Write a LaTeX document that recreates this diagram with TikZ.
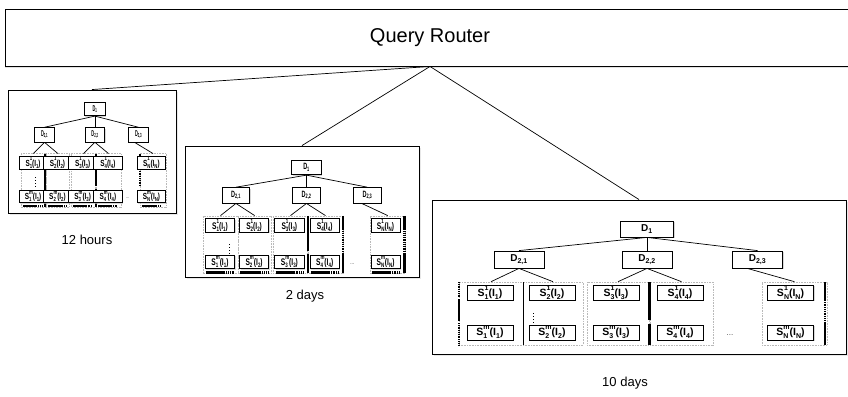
\documentclass[tikz,border=0pt]{standalone}
\usepackage{fontspec}
\setmainfont{Liberation Sans}
\usepackage{graphicx}
\usetikzlibrary{calc,shadows}

% disk label S_i^j(I_k) with stacked indices
\newcommand\idx[1]{{\fontsize{7}{7}\selectfont #1}}
\newcommand\slab[3]{S\ooalign{\raisebox{6.2pt}{\idx{#2}}\cr\raisebox{-3pt}{\idx{#1}}\cr}(I\raisebox{-3pt}{\idx{#3}})}

\tikzset{
  qrbox/.style={draw, line width=0.9pt, fill=white, minimum width=850pt, minimum height=57pt,
    font=\fontsize{20}{24}\selectfont, drop shadow={shadow xshift=0pt, shadow yshift=-2pt, fill=gray!45}},
  panel/.style={draw, line width=0.9pt, fill=white, inner sep=0pt,
    drop shadow={shadow xshift=1.5pt, shadow yshift=-1.5pt, fill=gray!35}},
  dbox/.style={draw, line width=0.8pt, fill=white, inner sep=0pt, minimum width=50pt, minimum height=17pt,
    font=\bfseries\fontsize{10}{11}\selectfont, drop shadow={shadow xshift=1pt, shadow yshift=-1pt, fill=gray!60}},
  sbox/.style={draw, line width=0.8pt, fill=white, inner sep=0pt, minimum height=15pt,
    font=\bfseries\fontsize{10.5}{12}\selectfont, drop shadow={shadow xshift=1pt, shadow yshift=-1pt, fill=gray!60}},
  grp/.style={draw=gray!55, line width=0.6pt, dash pattern=on 0.8pt off 0.8pt, inner sep=0pt, minimum height=63pt},
  bar/.style={line width=2.4pt},
  hatch/.style={line width=2.4pt, dash pattern=on 0.9pt off 0.9pt},
  thinbar/.style={line width=0.6pt},
  link/.style={line width=0.7pt},
  dotcol/.style={line width=1pt, dash pattern=on 1pt off 2pt},
  caption/.style={font=\fontsize{13}{15}\selectfont},
  more/.style={font=\fontsize{8}{9}\selectfont, text=gray!60!black},
}

% one disk box, width scaled by \boxsx
\newcommand\diskbox[3]{\node[sbox, minimum width=46pt*\boxsx] (#1) at (#2) {\scalebox{\boxsx}[1]{#3}};}

% one index tree in local units: #1 name prefix, #2 box width factor, #3 extra shading
\newcommand\treepanel[3]{%
  \def\boxsx{#2}%
  \node[grp, minimum width=64pt] (#1g1) at (59,113.5) {};
  \node[grp, minimum width=60pt] (#1g2) at (121,113.5) {};
  \node[grp, minimum width=62pt] (#1g3) at (186,113.5) {};
  \node[grp, minimum width=63pt] (#1g4) at (249.5,113.5) {};
  \node[grp, minimum width=65pt] (#1gN) at (362.5,113.5) {};
  \draw[bar] (217.5,82) -- (217.5,120) (217.5,124) -- (217.5,145);
  #3
  \node[dbox, minimum width=53pt, minimum height=16pt] (#1d1) at (215,29) {D\textsubscript{1}};
  \node[dbox] (#1d21) at (87,59.5) {D\textsubscript{2,1}};
  \node[dbox] (#1d22) at (215,59.5) {D\textsubscript{2,2}};
  \node[dbox] (#1d23) at (325.5,59.5) {D\textsubscript{2,3}};
  \diskbox{#1s1a}{58,92.5}{\slab{1}{1}{1}}
  \diskbox{#1s2a}{120,92.5}{\slab{2}{1}{2}}
  \diskbox{#1s3a}{184,92.5}{\slab{3}{1}{3}}
  \diskbox{#1s4a}{248,92.5}{\slab{4}{1}{4}}
  \diskbox{#1sNa}{358.5,92.5}{\slab{N}{1}{N}}
  \diskbox{#1s1b}{58,132.5}{\slab{1}{m}{1}}
  \diskbox{#1s2b}{120,132.5}{\slab{2}{m}{2}}
  \diskbox{#1s3b}{184,132.5}{\slab{3}{m}{3}}
  \diskbox{#1s4b}{248,132.5}{\slab{4}{m}{4}}
  \diskbox{#1sNb}{358.5,132.5}{\slab{N}{m}{N}}
  \node[more] (#1more) at (298,135) {...};
  \draw[link] (#1d1.south) -- (#1d21.north);
  \draw[link] (#1d1.south) -- (#1d22.north);
  \draw[link] (#1d1.south) -- (#1d23.north);
  \draw[link] (#1d21.south) -- (#1g1.north);
  \draw[link] (#1d21.south) -- (#1g2.north);
  \draw[link] (#1d22.south) -- (#1g3.north);
  \draw[link] (#1d22.south) -- (#1g4.north);
  \draw[link] ($(#1d23.south west)!0.3!(#1d23.south east)$) -- (#1gN.north);
}

% thick underlines beneath the disk columns
\newcommand\baseshade{%
  \foreach \c in {58,120,184,248,358.5} {
    \draw[bar] (\c-25,144) -- (\c+8,144);
    \draw[hatch] (\c+8,144) -- (\c+25,144);
  }}

\newcommand\shadeR{%
  \draw[hatch] (27,82) -- (27,97);
  \draw[bar] (27,99) -- (27,121);
  \draw[hatch] (27,123) -- (27,145);
  \draw[thinbar] (91,82) -- (91,145);
  \draw[bar] (393,82) -- (393,100);
  \draw[hatch] (393,100) -- (393,123);
  \draw[bar] (393,123) -- (393,145);
  \draw[dotcol] (101,113) -- (101,124);
}
\newcommand\shadeM{%
  \foreach \x in {281,393} {
    \draw[bar] (\x,82) -- (\x,98);
    \draw[hatch] (\x,99) -- (\x,122);
    \draw[bar] (\x,123) -- (\x,145);
  }
  \baseshade
  \draw[dotcol] (76,113) -- (76,124);
}
\newcommand\shadeL{%
  \draw[bar] (89,82) -- (89,145);
  \draw[bar] (330,82) -- (330,98);
  \draw[hatch] (330,100) -- (330,120);
  \baseshade
  \draw[dotcol] (65,110) -- (65,122);
}

\begin{document}
\begin{tikzpicture}[x=1pt,y=-1pt]
\useasboundingbox (0,0) rectangle (848,396);

\node[qrbox] (qr) at (430,37.5) {Query Router};

\node[panel, minimum width=168pt, minimum height=123pt] (lpanel) at (92,151.5) {};
\node[panel, minimum width=234pt, minimum height=131pt] (mpanel) at (302,211.5) {};
\node[panel, minimum width=414pt, minimum height=154pt] (rpanel) at (639,277) {};

\draw[link] (qr.south) -- (lpanel.north);
\draw[link] (qr.south) -- (mpanel.north);
\draw[link] (qr.south) -- (rpanel.north);

\node[caption] (lcap) at (87,240) {12 hours};
\node[caption] (mcap) at (305,296) {2 days};
\node[caption] (rcap) at (625,383) {10 days};

\begin{scope}[shift={(10.2,84.5)}, xscale=0.394, yscale=0.845, transform shape]
  \treepanel{l}{1.55}{\shadeL}
\end{scope}
\begin{scope}[shift={(188,141)}, xscale=0.551, yscale=0.913, transform shape]
  \treepanel{m}{1.15}{\shadeM}
\end{scope}
\begin{scope}[shift={(432,200)}]
  \treepanel{r}{1}{\shadeR}
\end{scope}
\end{tikzpicture}
\end{document}
